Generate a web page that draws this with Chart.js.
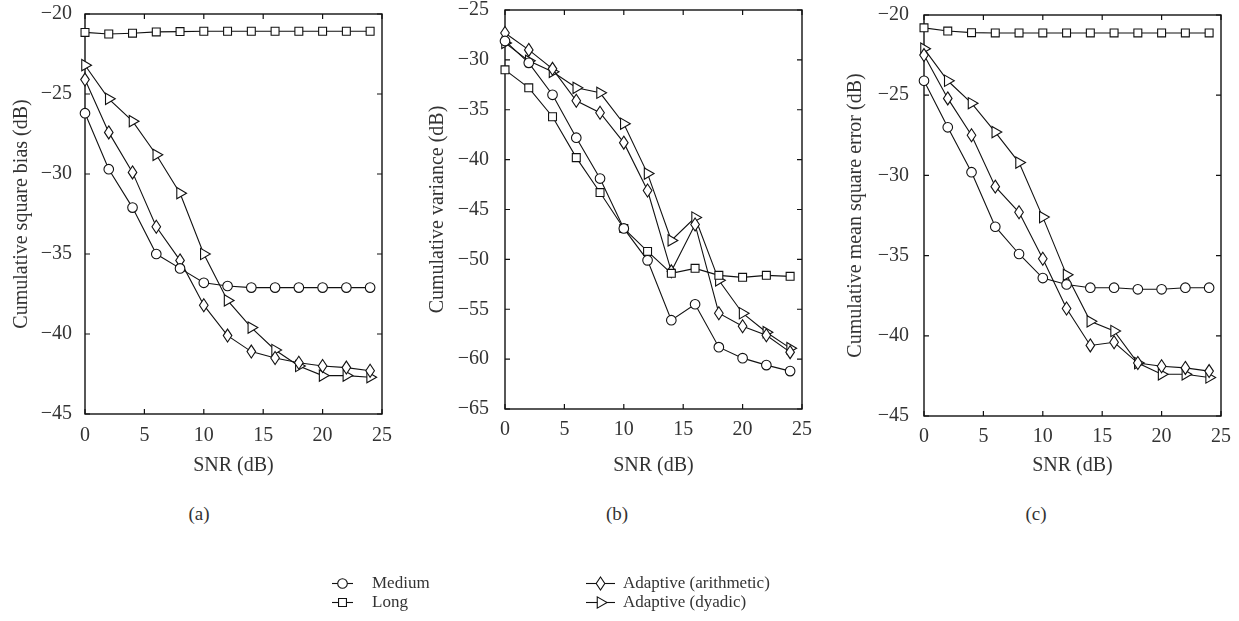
<!DOCTYPE html>
<html>
<head>
<meta charset="utf-8">
<script src="https://cdn.jsdelivr.net/npm/chart.js@4.4.1/dist/chart.umd.min.js"></script>
<style>
html,body{margin:0;padding:0;background:#fff;}
body{width:1239px;height:621px;position:relative;overflow:hidden;font-family:"Liberation Serif",serif;color:#333;}
canvas.panel{position:absolute;}
.sub{position:absolute;font-size:19px;transform:translate(-50%,-50%);white-space:nowrap;}
.leg{position:absolute;font-size:17px;transform:translateY(-50%);white-space:nowrap;}
</style>
</head>
<body>
<canvas class="panel" id="chartBias" width="410" height="484" style="left:0px;top:-6px"></canvas>
<canvas class="panel" id="chartVar" width="410" height="488" style="left:410px;top:-10px"></canvas>
<canvas class="panel" id="chartMse" width="419" height="483" style="left:820px;top:-5px"></canvas>

<div class="sub" style="left:199px;top:514px">(a)</div>
<div class="sub" style="left:617px;top:514px">(b)</div>
<div class="sub" style="left:1036px;top:514px">(c)</div>

<canvas id="legendIcons" width="330" height="42" style="position:absolute;left:320px;top:572px"></canvas>
<div class="leg" style="left:372px;top:583px">Medium</div>
<div class="leg" style="left:372px;top:602px">Long</div>
<div class="leg" style="left:623px;top:583px">Adaptive (arithmetic)</div>
<div class="leg" style="left:623px;top:602px">Adaptive (dyadic)</div>

<script>
/* SNR on x, results in dB */
var snr = [0, 2, 4, 6, 8, 10, 12, 14, 16, 18, 20, 22, 24];
var seriesNames = ['Medium', 'Long', 'Adaptive (arithmetic)', 'Adaptive (dyadic)'];

var biasMedium = [-26.2, -29.7, -32.1, -35.0, -35.9, -36.8, -37.0, -37.1, -37.1, -37.1, -37.1, -37.1, -37.1];
var biasLong   = [-21.15, -21.25, -21.2, -21.12, -21.1, -21.08, -21.08, -21.08, -21.08, -21.08, -21.08, -21.08, -21.08];
var biasArith  = [-24.1, -27.4, -29.9, -33.3, -35.4, -38.2, -40.1, -41.1, -41.5, -41.8, -42.0, -42.1, -42.3];
var biasDyadic = [-23.2, -25.3, -26.7, -28.8, -31.2, -35.0, -37.9, -39.6, -41.0, -42.0, -42.6, -42.6, -42.7];

var varMedium = [-28.1, -30.3, -33.5, -37.8, -41.9, -46.9, -50.1, -56.1, -54.5, -58.8, -59.9, -60.6, -61.2];
var varLong   = [-31.0, -32.8, -35.7, -39.8, -43.3, -46.9, -49.2, -51.4, -50.9, -51.6, -51.8, -51.6, -51.7];
var varArith  = [-27.3, -29.0, -30.9, -34.1, -35.3, -38.3, -43.1, -51.2, -46.5, -55.4, -56.7, -57.6, -59.3];
var varDyadic = [-28.3, -30.1, -31.2, -32.8, -33.3, -36.4, -41.4, -48.1, -45.8, -52.1, -55.4, -57.3, -58.9];

var mseMedium = [-24.1, -27.0, -29.8, -33.2, -34.9, -36.4, -36.8, -37.0, -37.0, -37.1, -37.1, -37.0, -37.0];
var mseLong   = [-20.8, -21.0, -21.1, -21.12, -21.12, -21.12, -21.12, -21.12, -21.12, -21.12, -21.12, -21.12, -21.12];
var mseArith  = [-22.5, -25.2, -27.5, -30.7, -32.3, -35.2, -38.3, -40.6, -40.4, -41.7, -41.9, -42.0, -42.2];
var mseDyadic = [-22.1, -24.1, -25.5, -27.3, -29.2, -32.6, -36.2, -39.1, -39.7, -41.7, -42.4, -42.4, -42.6];

var xTicks = [0, 5, 10, 15, 20, 25];

(function(){
'use strict';

var INK = '#111';
var TEXT = '#333';
var FONT = '"Liberation Serif", serif';

// circle, square, tall diamond (drawn by plugin), right-pointing triangle
var styles = [
  {pointStyle: 'circle', pointRadius: 4.8, rotation: 0},
  {pointStyle: 'rect', pointRadius: 5.6, rotation: 0},
  {pointStyle: 'circle', pointRadius: 0, rotation: 0, diamond: true},
  {pointStyle: 'triangle', pointRadius: 6.5, rotation: 90}
];

function diamondPath(ctx, x, y){
  ctx.beginPath();
  ctx.moveTo(x, y - 6.5); ctx.lineTo(x + 4.3, y); ctx.lineTo(x, y + 6.5); ctx.lineTo(x - 4.3, y);
  ctx.closePath();
  ctx.fillStyle = '#fff'; ctx.fill();
  ctx.strokeStyle = INK; ctx.lineWidth = 1.1; ctx.stroke();
}

function minus(v){ return v < 0 ? '\u2212' + Math.abs(v) : String(v); }

var framePlugin = {
  id: 'frame',
  beforeDatasetsDraw: function(chart){
    var a = chart.chartArea, ctx = chart.ctx;
    var xs = chart.scales.x, ys = chart.scales.y;
    ctx.save();
    ctx.strokeStyle = INK;
    ctx.lineWidth = 1.4;
    ctx.strokeRect(a.left, a.top, a.right - a.left, a.bottom - a.top);
    ctx.lineWidth = 1.2;
    ctx.beginPath();
    xs.ticks.forEach(function(t){
      var px = xs.getPixelForValue(t.value);
      ctx.moveTo(px, a.bottom); ctx.lineTo(px, a.bottom - 5);
      ctx.moveTo(px, a.top); ctx.lineTo(px, a.top + 5);
    });
    ys.ticks.forEach(function(t){
      var py = ys.getPixelForValue(t.value);
      ctx.moveTo(a.left, py); ctx.lineTo(a.left + 5, py);
      ctx.moveTo(a.right, py); ctx.lineTo(a.right - 5, py);
    });
    ctx.stroke();
    ctx.restore();
  },
  afterDatasetDraw: function(chart, args){
    if(!styles[args.index].diamond) return;
    var ctx = chart.ctx;
    ctx.save();
    args.meta.data.forEach(function(pt){ diamondPath(ctx, pt.x, pt.y); });
    ctx.restore();
  }
};

function points(values){
  return snr.map(function(x, i){ return {x: x, y: values[i]}; });
}

function makePanel(id, yTitle, yMin, yMax, series, g){
  var datasets = series.map(function(values, i){
    return {
      label: seriesNames[i],
      data: points(values),
      borderColor: INK,
      borderWidth: 1.1,
      pointStyle: styles[i].pointStyle,
      pointRadius: styles[i].pointRadius,
      pointRotation: styles[i].rotation,
      pointBackgroundColor: '#fff',
      pointBorderColor: INK,
      pointBorderWidth: 1.1,
      tension: 0,
      clip: false
    };
  });
  return new Chart(document.getElementById(id), {
    type: 'line',
    data: {datasets: datasets},
    options: {
      responsive: false,
      animation: false,
      events: [],
      layout: {padding: g.pad},
      plugins: {legend: {display: false}, tooltip: {enabled: false}},
      scales: {
        x: {
          type: 'linear', min: 0, max: 25,
          afterFit: function(s){ s.height = g.xHeight; },
          afterBuildTicks: function(s){ s.ticks = xTicks.map(function(v){ return {value: v}; }); },
          grid: {display: false}, border: {display: false},
          ticks: {padding: g.xPad, color: TEXT, font: {family: FONT, size: 20}, maxRotation: 0},
          title: {display: true, text: 'SNR (dB)', color: TEXT, font: {family: FONT, size: 20}, padding: {top: 0, bottom: 0}}
        },
        y: {
          min: yMin, max: yMax,
          afterFit: function(s){ s.width = g.yWidth; },
          grid: {display: false}, border: {display: false},
          ticks: {stepSize: 5, padding: g.yPad, color: TEXT, font: {family: FONT, size: 20}, callback: minus},
          title: {display: true, text: yTitle, color: TEXT, font: {family: FONT, size: 20}, padding: {top: 6, bottom: 0}}
        }
      }
    },
    plugins: [framePlugin]
  });
}

function build(){
  Chart.defaults.font.family = FONT;
  Chart.defaults.color = TEXT;

  makePanel('chartBias', 'Cumulative square bias (dB)', -45, -20,
    [biasMedium, biasLong, biasArith, biasDyadic],
    {pad: {left: 4, top: 20, right: 28, bottom: 0}, yWidth: 81, xHeight: 64, yPad: 5, xPad: 2});
  makePanel('chartVar', 'Cumulative variance (dB)', -65, -25,
    [varMedium, varLong, varArith, varDyadic],
    {pad: {left: 10, top: 20, right: 18, bottom: 0}, yWidth: 85, xHeight: 69, yPad: 8, xPad: 1});
  makePanel('chartMse', 'Cumulative mean square error (dB)', -45, -20,
    [mseMedium, mseLong, mseArith, mseDyadic],
    {pad: {left: 18, top: 20, right: 18, bottom: 0}, yWidth: 86, xHeight: 62, yPad: 7, xPad: 1});

  /* legend swatches */
  var lc = document.getElementById('legendIcons').getContext('2d');
  var rows = [[12, 33, 11], [12, 33, 30], [266, 295, 11], [266, 295, 30]];
  rows.forEach(function(r, i){
    var cx = (r[0] + r[1]) / 2, cy = r[2] + 0.5;
    lc.strokeStyle = INK; lc.fillStyle = '#fff'; lc.lineWidth = 1.1;
    lc.beginPath(); lc.moveTo(r[0], cy); lc.lineTo(r[1], cy); lc.stroke();
    if(styles[i].diamond){ diamondPath(lc, cx, cy); return; }
    Chart.helpers.drawPoint(lc, {
      pointStyle: styles[i].pointStyle, radius: styles[i].pointRadius, rotation: styles[i].rotation, borderWidth: 1.1
    }, cx, cy);
  });
}

if(document.fonts && document.fonts.load){
  document.fonts.load('20px "Liberation Serif"').then(build, build);
} else {
  build();
}
})();
</script>
</body>
</html>
